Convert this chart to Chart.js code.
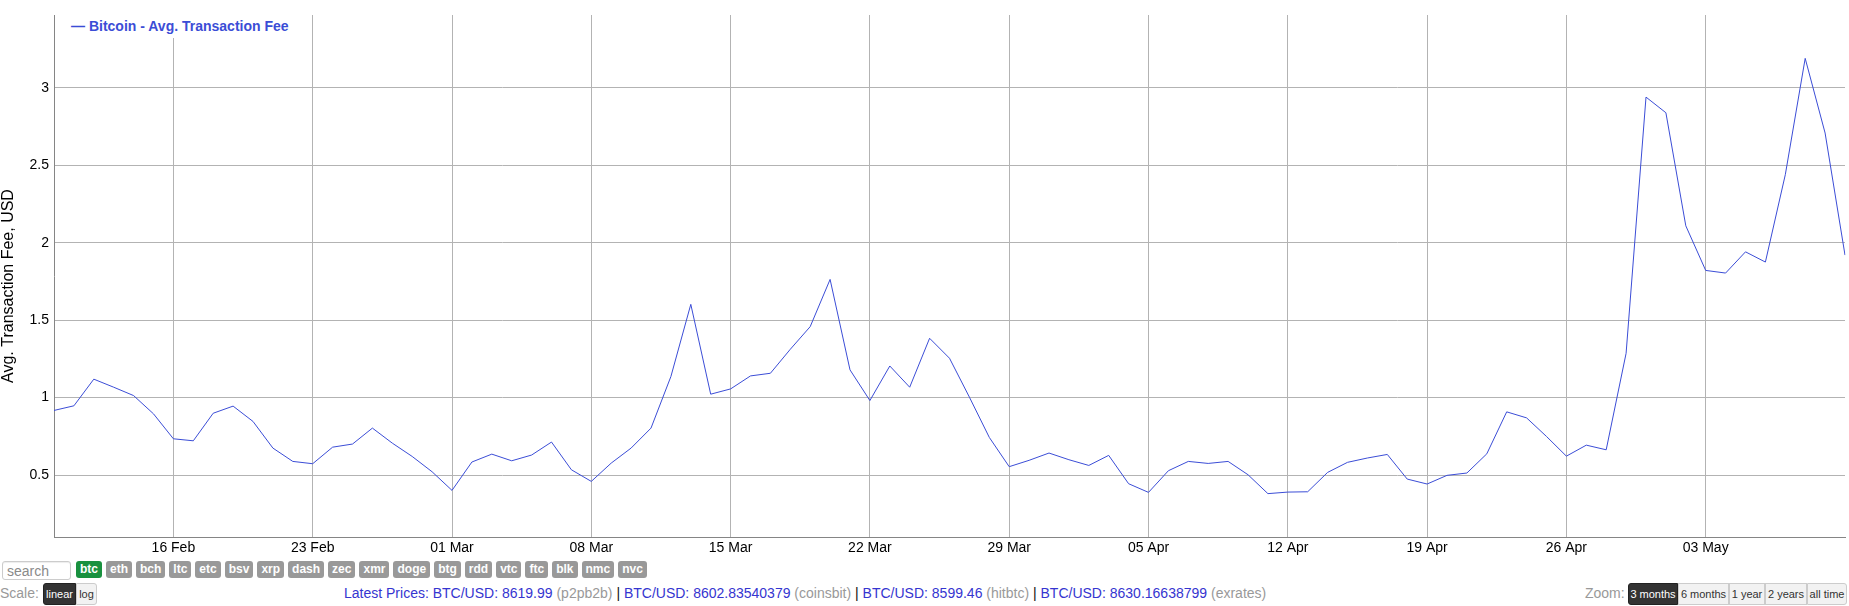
<!DOCTYPE html>
<html>
<head>
<meta charset="utf-8">
<script src="https://cdn.jsdelivr.net/npm/chart.js@4"></script>
<style>
html,body{margin:0;padding:0;background:#fff;width:1849px;height:606px;overflow:hidden;font-family:"Liberation Sans",Arial,sans-serif;}
#wrap{position:absolute;left:0;top:0;width:1849px;height:560px;}
#legend{position:absolute;left:66px;top:15px;width:228px;height:23px;background:#fff;color:#3b4dd6;font-weight:bold;font-size:14px;line-height:23px;padding-left:5px;box-sizing:border-box;white-space:nowrap;z-index:5;}
#search{position:absolute;left:2px;top:561px;width:69px;height:19px;box-sizing:border-box;border:1px solid #ccc;border-radius:3px;font-family:"Liberation Sans",Arial,sans-serif;font-size:14px;padding:0 0 0 4px;margin:0;box-shadow:inset 0 1px 1px rgba(0,0,0,0.075);}
#search::placeholder{color:#8a8a8a;}
#coins{position:absolute;left:76px;top:561px;display:flex;gap:4px;}
#coins span{display:block;height:17px;line-height:17px;font-size:12px;font-weight:bold;color:#fff;background:#999;border-radius:3px;padding:0 4px;}
#coins span.on{background:#19913f;}
.lbl{position:absolute;top:584px;line-height:18px;font-size:14px;color:#999;white-space:nowrap;}
.grp{position:absolute;top:583px;height:22px;display:flex;}
.grp span{display:block;height:22px;line-height:20px;box-sizing:border-box;font-size:11px;text-align:center;border:1px solid #ccc;background:#f2f2f2;color:#333;white-space:nowrap;}
.grp span.on{background:#333;color:#fff;border-color:#222;}
.grp span:first-child{border-radius:3px 0 0 3px;}
.grp span:last-child{border-radius:0 3px 3px 0;}
#prices{position:absolute;left:344px;top:584px;line-height:18px;font-size:14px;white-space:nowrap;}
#prices .b{color:#3535d0;}
#prices .g{color:#999;}
#prices .s{color:#111;}
</style>
</head>
<body>
<div id="wrap"><canvas id="c"></canvas></div>
<div id="legend"></div>

<input id="search" type="text" placeholder="search">
<div id="coins">
<span class="on">btc</span><span>eth</span><span>bch</span><span>ltc</span><span>etc</span><span>bsv</span><span>xrp</span><span>dash</span><span>zec</span><span>xmr</span><span>doge</span><span>btg</span><span>rdd</span><span>vtc</span><span>ftc</span><span>blk</span><span>nmc</span><span>nvc</span>
</div>

<div class="lbl" style="left:0px;">Scale:</div>
<div class="grp" style="left:43px;">
<span class="on" style="width:33px;">linear</span><span style="width:21px;">log</span>
</div>

<div id="prices"><span class="b">Latest Prices: BTC/USD: 8619.99</span> <span class="g">(p2pb2b)</span> <span class="s">|</span> <span class="b">BTC/USD: 8602.83540379</span> <span class="g">(coinsbit)</span> <span class="s">|</span> <span class="b">BTC/USD: 8599.46</span> <span class="g">(hitbtc)</span> <span class="s">|</span> <span class="b">BTC/USD: 8630.16638799</span> <span class="g">(exrates)</span></div>

<div class="lbl" style="left:1585px;">Zoom:</div>
<div class="grp" style="left:1628px;">
<span class="on" style="width:50px;">3 months</span><span style="width:51px;">6 months</span><span style="width:36px;">1 year</span><span style="width:42px;">2 years</span><span style="width:40px;">all time</span>
</div>

<script>
// ---- data ----
const categories = [
 "10 Feb","11 Feb","12 Feb","13 Feb","14 Feb","15 Feb","16 Feb","17 Feb","18 Feb","19 Feb",
 "20 Feb","21 Feb","22 Feb","23 Feb","24 Feb","25 Feb","26 Feb","27 Feb","28 Feb","29 Feb",
 "01 Mar","02 Mar","03 Mar","04 Mar","05 Mar","06 Mar","07 Mar","08 Mar","09 Mar","10 Mar",
 "11 Mar","12 Mar","13 Mar","14 Mar","15 Mar","16 Mar","17 Mar","18 Mar","19 Mar","20 Mar",
 "21 Mar","22 Mar","23 Mar","24 Mar","25 Mar","26 Mar","27 Mar","28 Mar","29 Mar","30 Mar",
 "31 Mar","01 Apr","02 Apr","03 Apr","04 Apr","05 Apr","06 Apr","07 Apr","08 Apr","09 Apr",
 "10 Apr","11 Apr","12 Apr","13 Apr","14 Apr","15 Apr","16 Apr","17 Apr","18 Apr","19 Apr",
 "20 Apr","21 Apr","22 Apr","23 Apr","24 Apr","25 Apr","26 Apr","27 Apr","28 Apr","29 Apr",
 "30 Apr","01 May","02 May","03 May","04 May","05 May","06 May","07 May","08 May","09 May",
 "10 May"
];
const feeValues = [
 0.917,0.947,1.119,1.067,1.013,0.895,0.734,0.721,0.899,0.945,
 0.846,0.674,0.588,0.573,0.680,0.700,0.803,0.706,0.620,0.521,
 0.401,0.584,0.635,0.592,0.629,0.713,0.534,0.459,0.577,0.674,
 0.803,1.136,1.602,1.022,1.056,1.140,1.157,1.312,1.458,1.763,
 1.179,0.981,1.204,1.067,1.383,1.254,1.003,0.743,0.554,0.595,
 0.642,0.599,0.562,0.627,0.444,0.388,0.528,0.588,0.575,0.588,
 0.502,0.380,0.390,0.392,0.517,0.582,0.610,0.633,0.474,0.442,
 0.498,0.513,0.637,0.908,0.869,0.749,0.622,0.693,0.663,1.286,
 2.940,2.839,2.109,1.821,1.804,1.941,1.875,2.439,3.190,2.708,
 1.920
];
const xTickLabels = ["16 Feb","23 Feb","01 Mar","08 Mar","15 Mar","22 Mar","29 Mar","05 Apr","12 Apr","19 Apr","26 Apr","03 May"];
const yTickValues = [0.5, 1, 1.5, 2, 2.5, 3];
const yTickLabels = ["0.5", "1", "1.5", "2", "2.5", "3"];
const seriesName = "Bitcoin - Avg. Transaction Fee";
const yAxisTitle = "Avg. Transaction Fee, USD";

// ---- style ----
const LINE = '#3b4dd6';
const GRID = '#b3b3b3';
const AXIS = '#858585';
const FONT = '"Liberation Sans", Arial, sans-serif';

document.getElementById('legend').textContent = '\u2014 ' + seriesName;

const yTitlePlugin = {
  id: 'ytitle',
  afterDraw(chart) {
    const c = chart.ctx;
    c.save();
    c.font = '16px ' + FONT;
    c.fillStyle = '#000';
    c.textAlign = 'center';
    c.textBaseline = 'alphabetic';
    c.translate(13, 286);
    c.rotate(-Math.PI / 2);
    c.fillText(yAxisTitle, 0, 0);
    c.restore();
  }
};

new Chart(document.getElementById('c'), {
  type: 'line',
  data: {
    labels: categories,
    datasets: [{
      label: seriesName,
      data: feeValues,
      borderColor: LINE,
      borderWidth: 1,
      pointRadius: 0,
      pointHoverRadius: 0,
      tension: 0,
      fill: false
    }]
  },
  options: {
    responsive: true,
    maintainAspectRatio: false,
    animation: false,
    events: [],
    layout: { padding: { left: 0, right: 4, top: 15, bottom: 0 } },
    plugins: { legend: { display: false }, tooltip: { enabled: false } },
    scales: {
      x: {
        type: 'category',
        offset: false,
        grid: {
          color: (c) => (xTickLabels.includes(categories[c.index]) ? GRID : 'rgba(0,0,0,0)'),
          lineWidth: 1,
          drawTicks: false
        },
        border: { color: AXIS, width: 1 },
        ticks: {
          autoSkip: false,
          maxRotation: 0,
          minRotation: 0,
          padding: 3,
          color: '#000',
          font: { family: FONT, size: 14 },
          callback: (v, i) => (xTickLabels.includes(categories[i]) ? categories[i] : '')
        },
        afterFit: (s) => { s.height = 23; }
      },
      y: {
        min: 0.1,
        max: 3.47,
        afterBuildTicks: (s) => { s.ticks = yTickValues.map(v => ({ value: v })); },
        grid: { color: GRID, lineWidth: 1, drawTicks: false },
        border: { color: AXIS, width: 1 },
        ticks: {
          padding: 5,
          color: '#000',
          font: { family: FONT, size: 14 },
          callback: (v) => { const k = yTickValues.indexOf(v); return k >= 0 ? yTickLabels[k] : ''; }
        },
        afterFit: (s) => { s.width = 54; }
      }
    }
  },
  plugins: [yTitlePlugin]
});
</script>
</body>
</html>
